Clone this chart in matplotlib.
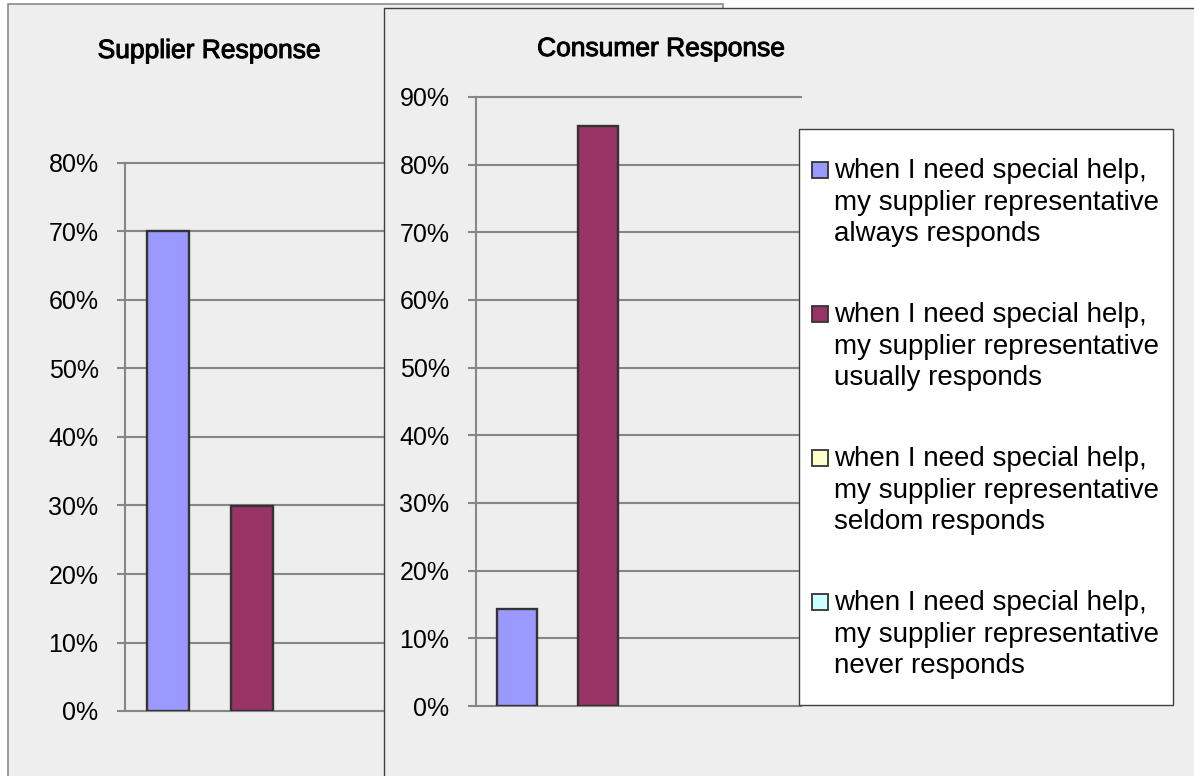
import matplotlib
matplotlib.use("Agg")
import matplotlib.patheffects as pe
import matplotlib.pyplot as plt
import numpy as np
from matplotlib.patches import Rectangle
from matplotlib.ticker import PercentFormatter

plt.rcParams["font.family"] = ["Liberation Sans", "DejaVu Sans"]

# data
series_labels = [
    "when I need special help,\nmy supplier representative\nalways responds",
    "when I need special help,\nmy supplier representative\nusually responds",
    "when I need special help,\nmy supplier representative\nseldom responds",
    "when I need special help,\nmy supplier representative\nnever responds",
]
series_colors = ["#9999FF", "#993366", "#FFFFCC", "#CCFFFF"]
supplier_values = [0.70, 0.30, 0.0, 0.0]
consumer_values = [0.143, 0.857, 0.0, 0.0]
supplier_title = "Supplier Response"
consumer_title = "Consumer Response"

W, H = 1194, 776
GRID = "#868686"


def fx(x):
    return x / W


def fy(y):
    return 1 - y / H


def axes_box(x0, y0, x1, y1):
    # pixel box (top-left origin) -> figure fraction rect
    return [fx(x0), fy(y1), (x1 - x0) / W, (y1 - y0) / H]


def draw_bars(ax, values, ymax):
    x = np.arange(len(values))
    vals = np.array(values)
    lw = np.where(vals > 0, 1.7, 0)
    ax.bar(x, vals, width=0.5, color=series_colors, edgecolor="#333333",
           linewidth=lw, zorder=3)
    ax.set_xlim(-0.506, len(values) - 1 + 0.506)
    ax.set_ylim(0, ymax)
    ax.set_yticks(np.arange(0, ymax + 0.001, 0.1))
    ax.yaxis.set_major_formatter(PercentFormatter(1.0, decimals=0))
    ax.yaxis.grid(True, color=GRID, linewidth=1.5)
    ax.set_axisbelow(True)
    ax.set_facecolor("none")
    for s in ["top", "right", "bottom"]:
        ax.spines[s].set_visible(False)
    ax.spines["left"].set_color(GRID)
    ax.spines["left"].set_linewidth(1.5)
    ax.tick_params(axis="y", length=6, width=1.5, color=GRID, pad=13,
                   labelsize=18, labelcolor="black")
    ax.tick_params(axis="x", length=0, labelbottom=False)
    for lab in ax.get_yticklabels():
        lab.set_clip_on(False)
    for line in ax.get_ygridlines():
        line.set_clip_on(False)


heavy = [pe.withStroke(linewidth=0.7, foreground="black")]

fig = plt.figure(figsize=(W / 100, H / 100), dpi=100, facecolor="white")

# left panel
fig.add_artist(Rectangle((fx(8), fy(800)), (723 - 8) / W, (800 - 4) / H,
                         transform=fig.transFigure, facecolor="#EEEEEE",
                         edgecolor="#8A8A8A", linewidth=1.2, zorder=0.1))
ax1 = fig.add_axes(axes_box(125, 163, 462, 711))
ax1.set_zorder(0.2)
draw_bars(ax1, supplier_values, 0.8)
fig.text(fx(209), fy(51), supplier_title, ha="center", va="center",
         fontsize=19, zorder=0.2, path_effects=heavy)

# right panel
fig.add_artist(Rectangle((fx(384), fy(800)), (1220 - 384) / W, (800 - 8) / H,
                         transform=fig.transFigure, facecolor="#EEEEEE",
                         edgecolor="#404040", linewidth=1.0, zorder=0.3))
ax2 = fig.add_axes(axes_box(476, 97, 801, 706))
ax2.set_zorder(0.4)
draw_bars(ax2, consumer_values, 0.9)
fig.text(fx(661), fy(49), consumer_title, ha="center", va="center",
         fontsize=19, zorder=0.4, path_effects=heavy)

# legend drawn by hand to match the spacing
fig.add_artist(Rectangle((fx(799), fy(705)), (1173 - 799) / W, (705 - 129) / H,
                         transform=fig.transFigure, facecolor="white",
                         edgecolor="#404040", linewidth=1.0, zorder=0.5))
for i, (label, color) in enumerate(zip(series_labels, series_colors)):
    top = 170 + i * 144
    fig.add_artist(Rectangle((fx(812), fy(top + 8)), 16 / W, 16 / H,
                             transform=fig.transFigure, facecolor=color,
                             edgecolor="#333333", linewidth=1.3, zorder=0.6))
    for k, line in enumerate(label.split("\n")):
        fig.text(fx(834), fy(top + 8 + k * 31.7), line, ha="left",
                 va="baseline", fontsize=20, zorder=0.6)

fig.savefig("out.png", dpi=100, facecolor="white")
